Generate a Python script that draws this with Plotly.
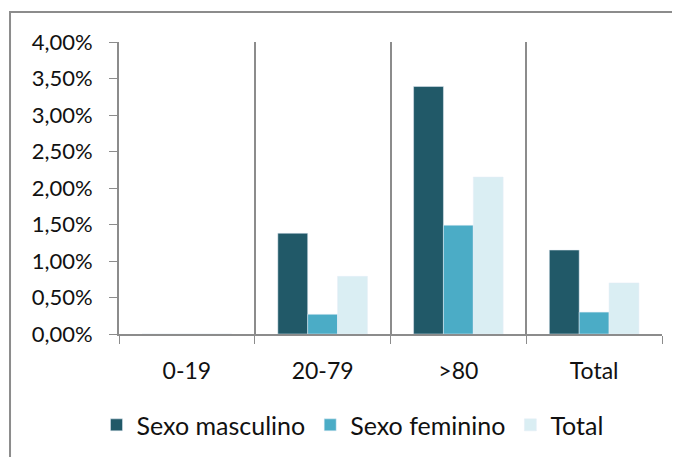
import plotly.graph_objects as go

categorias = ["0-19", "20-79", ">80", "Total"]
sexo_masculino = [0.0, 0.0138, 0.0339, 0.0115]
sexo_feminino = [0.0, 0.0027, 0.0149, 0.0030]
total = [0.0, 0.0079, 0.0215, 0.0070]

font = "Lato, 'Open Sans', sans-serif"
grey = "#8c8c8c"

fig = go.Figure()
fig.add_bar(x=categorias, y=sexo_masculino, name="Sexo masculino", marker_color="#215968")
fig.add_bar(x=categorias, y=sexo_feminino, name="Sexo feminino", marker_color="#4bacc6")
fig.add_bar(x=categorias, y=total, name="Total", marker_color="#daeef3")

# page body has an 8px offset, margins are set so the plot lands where the reference has it
fig.update_layout(
    width=680, height=457,
    margin=dict(l=111, r=26, t=34, b=131, autoexpand=False),
    paper_bgcolor="white", plot_bgcolor="white",
    separators=",.",
    barmode="group", bargap=0.34, bargroupgap=0,
    font=dict(family=font, size=22, color="#111111"),
    legend=dict(orientation="h", x=0.43, xanchor="center", y=-0.312, yanchor="middle",
                font=dict(size=25), itemwidth=30, tracegroupgap=0),
    shapes=[dict(type="rect", xref="paper", yref="paper",
                 x0=-0.2007, x1=1.07, y0=-0.47, y1=1.1027,
                 line=dict(color=grey, width=2))],
)
fig.update_xaxes(
    type="category", tickson="boundaries", showgrid=True, gridcolor=grey, gridwidth=1.5,
    showline=True, linecolor=grey, linewidth=2, ticks="outside", ticklen=8,
    tickcolor=grey, ticklabelstandoff=15, tickfont=dict(size=23), automargin=False,
)
fig.update_yaxes(
    range=[0, 0.04], dtick=0.005, tickformat=".2%", showgrid=False,
    showline=True, linecolor=grey, linewidth=2, ticks="outside", ticklen=8,
    tickcolor=grey, ticklabelstandoff=12, zeroline=False, automargin=False,
)

fig.write_html("out.html")
